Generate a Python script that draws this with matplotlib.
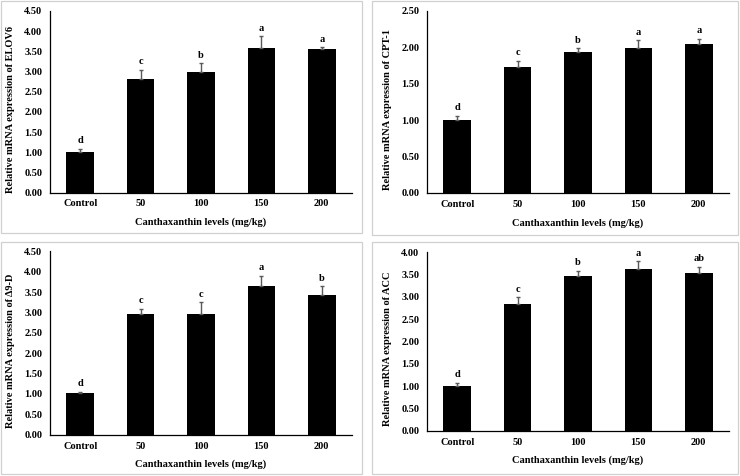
import matplotlib
matplotlib.use('Agg')
import matplotlib.pyplot as plt
from matplotlib.patches import Rectangle

plt.rcParams['font.family'] = ['Liberation Serif', 'DejaVu Serif']
plt.rcParams['font.weight'] = 'bold'

levels = ['Control', '50', '100', '150', '200']

elov6_mean = [1.01, 2.81, 2.98, 3.59, 3.55]
elov6_err = [0.07, 0.23, 0.23, 0.29, 0.05]
elov6_sig = ['d', 'c', 'b', 'a', 'a']

cpt1_mean = [1.00, 1.73, 1.93, 1.99, 2.04]
cpt1_err = [0.06, 0.09, 0.06, 0.11, 0.08]
cpt1_sig = ['d', 'c', 'b', 'a', 'a']

d9d_mean = [1.02, 2.97, 2.97, 3.66, 3.43]
d9d_err = [0.03, 0.12, 0.28, 0.24, 0.21]
d9d_sig = ['d', 'c', 'c', 'a', 'b']

acc_mean = [1.01, 2.83, 3.46, 3.62, 3.53]
acc_err = [0.06, 0.16, 0.12, 0.17, 0.14]
acc_sig = ['d', 'c', 'b', 'a', 'ab']

W, H = 740, 476
fs = 7.5
fig = plt.figure(figsize=(W / 100, H / 100), dpi=100)


def px(l, t, r, b):
    # pixel box (from top-left) -> figure fraction
    return [l / W, 1 - b / H, (r - l) / W, (b - t) / H]


# light grey frames round each panel
for l, t, r, b in [(1, 1, 362, 233), (372, 1, 738, 235),
                   (1, 242, 362, 474), (372, 242, 738, 474)]:
    fig.patches.append(Rectangle((l / W, 1 - b / H), (r - l) / W, (b - t) / H,
                                 transform=fig.transFigure, fill=False,
                                 edgecolor='#d0d0d0', linewidth=0.9))

panels = [
    (px(50, 11, 352, 192.5), elov6_mean, elov6_err, elov6_sig, 4.5, 'ELOV6'),
    (px(427, 11, 729, 193), cpt1_mean, cpt1_err, cpt1_sig, 2.5, 'CPT-1'),
    (px(50, 251.3, 352, 434.7), d9d_mean, d9d_err, d9d_sig, 4.5, '\u03949-D'),
    (px(427, 252, 729, 430.7), acc_mean, acc_err, acc_sig, 4.0, 'ACC'),
]

for rect, mean, err, sig, ymax, gene in panels:
    ax = fig.add_axes(rect)
    x = range(len(levels))
    ax.bar(x, mean, width=0.46, color='black',
           yerr=[[0] * len(err), err], ecolor='#5a5a5a',
           error_kw=dict(elinewidth=1.0, capsize=1.6, capthick=1.0))
    for i in x:
        ax.annotate(sig[i], (i, mean[i] + err[i]), xytext=(0, 2.5),
                    textcoords='offset points', ha='center', va='bottom',
                    fontsize=fs, fontweight='bold')
    ax.set_xlim(-0.5, len(levels) - 0.5)
    ax.set_ylim(0, ymax)
    ax.set_yticks([v * 0.5 for v in range(int(ymax / 0.5) + 1)])
    ax.set_yticklabels(['%.2f' % (v * 0.5) for v in range(int(ymax / 0.5) + 1)])
    ax.set_xticks(list(x))
    ax.set_xticklabels(levels)
    ax.tick_params(axis='y', length=0, pad=5.5, labelsize=fs)
    ax.tick_params(axis='x', length=0, pad=5, labelsize=fs)
    for s in ['top', 'right']:
        ax.spines[s].set_visible(False)
    for s in ['left', 'bottom']:
        ax.spines[s].set_linewidth(0.9)
    ax.set_xlabel('Canthaxanthin levels (mg/kg)', fontsize=fs, fontweight='bold')
    ax.xaxis.set_label_coords(0.5, -25 / (rect[3] * H), transform=ax.transAxes)
    ax.set_ylabel('Relative mRNA expression of ' + gene, fontsize=fs, fontweight='bold')
    ax.yaxis.set_label_coords(-35 / (rect[2] * W), 0.46, transform=ax.transAxes)

fig.savefig('out.png', dpi=100)
